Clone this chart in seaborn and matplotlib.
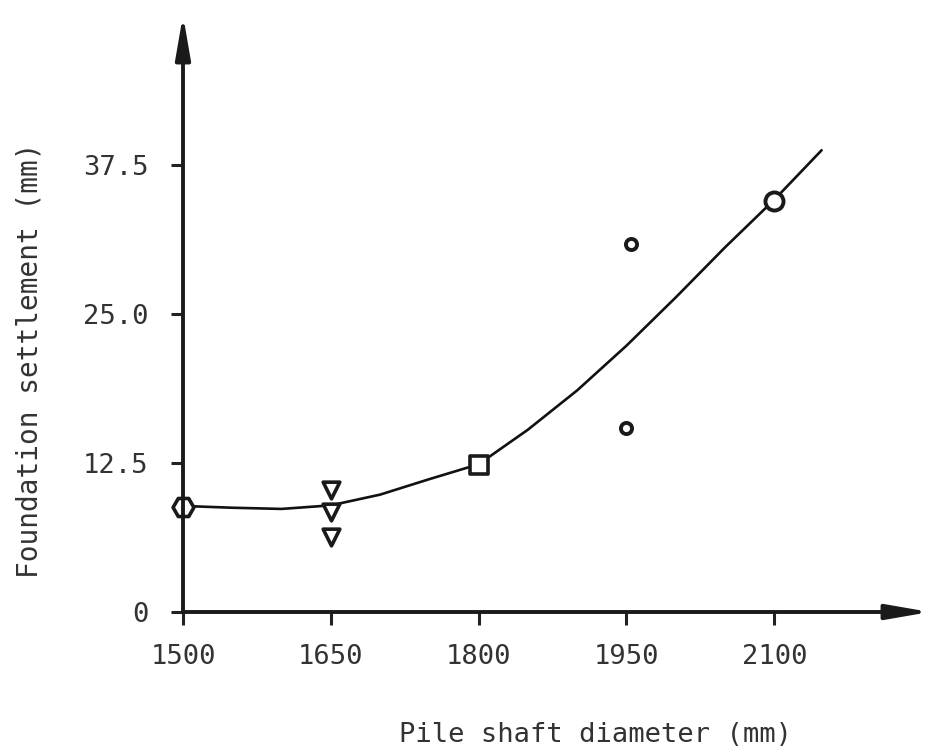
import numpy as np
import pandas as pd
import seaborn as sns
import matplotlib.pyplot as plt

sns.set_style("white")
plt.rcParams['font.family'] = ['DejaVu Sans Mono', 'DejaVu Sans']

# measured settlements (mm) by pile shaft diameter (mm)
hex_x = [1500]
hex_y = [8.8]
tri_x = [1650, 1650, 1650]
tri_y = [10.2, 8.4, 6.3]
sq_x = [1800]
sq_y = [12.3]
dot_x = [1955, 1950]
dot_y = [30.9, 15.4]
circ_x = [2100]
circ_y = [34.5]

# trend curve
curve_x = [1500, 1550, 1600, 1650, 1700, 1750, 1800, 1850, 1900, 1950, 2000, 2050, 2100, 2148]
curve_y = [8.9, 8.75, 8.65, 8.95, 9.85, 11.15, 12.4, 15.3, 18.6, 22.35, 26.4, 30.6, 34.6, 38.75]

xticks = [1500, 1650, 1800, 1950, 2100]
yticks = [0, 12.5, 25.0, 37.5]
yticklabels = ['0', '12.5', '25.0', '37.5']

W, H = 937, 753
fig = plt.figure(figsize=(W / 100, H / 100), dpi=100)
ax = fig.add_axes([183 / W, (H - 612) / H, (930 - 183) / W, (612 - 15) / H])

sns.lineplot(x=curve_x, y=curve_y, color='#111111', linewidth=1.9, ax=ax, zorder=2)

groups = [
    (hex_x, hex_y, 'H', 15, 2.6),
    (tri_x, tri_y, 'v', 12, 2.6),
    (sq_x, sq_y, 's', 13, 2.6),
    (dot_x, dot_y, 'o', 8, 2.8),
    (circ_x, circ_y, 'o', 13, 2.8),
]
for gx, gy, m, ms, lw in groups:
    df = pd.DataFrame({'d': gx, 's': gy})
    sns.scatterplot(data=df, x='d', y='s', marker=m, s=ms ** 2, facecolor='white',
                    edgecolor='#1a1a1a', linewidth=lw, ax=ax, zorder=3, clip_on=False)

ax.set_xlim(1500, 2258)
ax.set_ylim(0, 50.1)
for sp in ax.spines.values():
    sp.set_visible(False)

ax.set_xticks(xticks)
ax.set_yticks(yticks)
ax.set_yticklabels(yticklabels)
ax.tick_params(axis='both', direction='out', length=9, width=2.2, colors='#222222',
               labelcolor='#333333', labelsize=19.5, bottom=True, left=True)
ax.tick_params(axis='x', pad=14)
ax.tick_params(axis='y', pad=16)

arrow = dict(arrowstyle='-|>,head_length=2.6,head_width=0.45', mutation_scale=10,
             lw=2.8, color='#1a1a1a', shrinkA=0, shrinkB=0)
ax.annotate('', xy=(1, 0), xytext=(0, 0), xycoords='axes fraction', arrowprops=arrow)
ax.annotate('', xy=(0, 1), xytext=(0, 0), xycoords='axes fraction', arrowprops=arrow)

ax.set_xlabel('Pile shaft diameter (mm)', fontsize=19.5, color='#333333', va='center')
ax.set_ylabel('Foundation settlement (mm)', fontsize=20, color='#333333',
              va='center', ha='center')
ax.xaxis.set_label_coords((596 - 183) / 747, (612 - 735) / 597)
ax.yaxis.set_label_coords((30 - 183) / 747, (612 - 360) / 597)

ax.grid(False)
fig.savefig('out.png', dpi=100, facecolor='white')
